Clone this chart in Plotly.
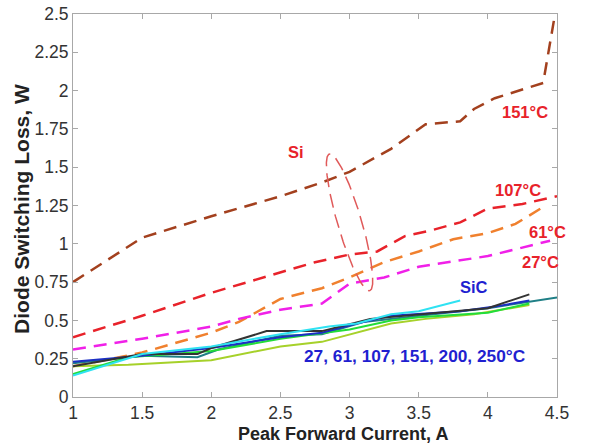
import numpy as np
import plotly.graph_objects as go

# ---- Si diode (dashed) ----
si_151_x = [1.0, 1.5, 2.0, 2.5, 2.8, 3.0, 3.3, 3.55, 3.8, 3.9, 4.05, 4.4, 4.48]
si_151_y = [0.75, 1.04, 1.18, 1.31, 1.40, 1.47, 1.62, 1.78, 1.80, 1.88, 1.95, 2.05, 2.47]

si_107_x = [1.0, 1.5, 2.0, 2.5, 2.75, 3.0, 3.2, 3.4, 3.6, 3.8, 4.0, 4.25, 4.5]
si_107_y = [0.39, 0.53, 0.68, 0.81, 0.88, 0.93, 0.95, 1.05, 1.09, 1.14, 1.23, 1.26, 1.31]

si_61_x = [1.0, 1.5, 2.0, 2.2, 2.5, 2.8, 3.0, 3.25, 3.5, 3.75, 4.0, 4.2, 4.4]
si_61_y = [0.20, 0.29, 0.42, 0.49, 0.64, 0.71, 0.78, 0.88, 0.95, 1.03, 1.07, 1.13, 1.24]

si_27_x = [1.0, 1.5, 2.0, 2.2, 2.5, 2.8, 3.0, 3.25, 3.5, 4.0, 4.45]
si_27_y = [0.31, 0.38, 0.46, 0.51, 0.57, 0.61, 0.74, 0.78, 0.85, 0.92, 1.02]

# ---- SiC diode (solid) ----
sic_a_x = [1.0, 1.5, 1.9, 2.0, 2.4, 2.8, 3.15, 3.5, 4.0, 4.3]
sic_a_y = [0.20, 0.28, 0.28, 0.32, 0.43, 0.43, 0.51, 0.54, 0.58, 0.67]
sic_b_x = [1.0, 1.5, 2.0, 2.5, 2.8, 3.05, 3.3, 3.8, 4.05, 4.3]
sic_b_y = [0.23, 0.27, 0.32, 0.39, 0.42, 0.48, 0.53, 0.56, 0.59, 0.63]
sic_c_x = [1.0, 1.5, 2.0, 2.5, 2.85, 3.05, 3.3, 3.5, 3.8]
sic_c_y = [0.14, 0.28, 0.33, 0.41, 0.46, 0.48, 0.54, 0.56, 0.63]
sic_d_x = [1.0, 1.4, 2.0, 2.5, 3.0, 3.3, 3.5, 4.0, 4.3]
sic_d_y = [0.15, 0.26, 0.30, 0.38, 0.44, 0.50, 0.52, 0.55, 0.61]
sic_e_x = [1.0, 1.4, 2.0, 2.5, 2.8, 3.05, 3.3, 3.55, 3.9, 4.3]
sic_e_y = [0.20, 0.21, 0.24, 0.33, 0.36, 0.42, 0.48, 0.51, 0.54, 0.60]
sic_f_x = [1.0, 1.5, 1.9, 2.05, 2.5, 2.8, 3.1, 3.5, 4.0, 4.5]
sic_f_y = [0.22, 0.27, 0.26, 0.31, 0.40, 0.41, 0.49, 0.53, 0.58, 0.65]

x_ticks = [1, 1.5, 2, 2.5, 3, 3.5, 4, 4.5]
x_tick_labels = ["1", "1.5", "2", "2.5", "3", "3.5", "4", "4.5"]
y_ticks = [0, 0.25, 0.5, 0.75, 1, 1.25, 1.5, 1.75, 2, 2.25, 2.5]
y_tick_labels = ["0", "0.25", "0.5", "0.75", "1", "1.25", "1.5", "1.75", "2", "2.25", "2.5"]

W, H = 599, 448
ML, MR, MT, MB = 73, 42, 4, 51
XR = [1, 4.5]
YR = [0, 2.5]

fig = go.Figure()

DASH = "13px,8px"
si_series = [
    (si_151_x, si_151_y, "#a3401e"),
    (si_107_x, si_107_y, "#e8222a"),
    (si_61_x, si_61_y, "#f0802e"),
    (si_27_x, si_27_y, "#f020e8"),
]
for xs, ys, c in si_series:
    fig.add_trace(go.Scatter(x=xs, y=ys, mode="lines",
                             line=dict(color=c, width=2.5, dash=DASH),
                             showlegend=False, hoverinfo="skip"))

sic_series = [
    (sic_f_x, sic_f_y, "#1f7f86"),
    (sic_e_x, sic_e_y, "#a6d12a"),
    (sic_d_x, sic_d_y, "#22dd3a"),
    (sic_b_x, sic_b_y, "#1c2fc4"),
    (sic_a_x, sic_a_y, "#333333"),
    (sic_c_x, sic_c_y, "#2fe2f2"),
]
for xs, ys, c in sic_series:
    fig.add_trace(go.Scatter(x=xs, y=ys, mode="lines",
                             line=dict(color=c, width=2),
                             showlegend=False, hoverinfo="skip"))

# Si grouping ellipse (tilted), built in pixel space then mapped to data units
pw = W - ML - MR
ph = H - MT - MB
sx = pw / (XR[1] - XR[0])
sy = ph / (YR[1] - YR[0])
cx, cy = 3.0, 1.14
a_px, b_px = 73, 12
ang = np.deg2rad(-74)
t = np.linspace(0, 2 * np.pi, 200)
ux = a_px * np.cos(t) * np.cos(ang) - b_px * np.sin(t) * np.sin(ang)
uy = a_px * np.cos(t) * np.sin(ang) + b_px * np.sin(t) * np.cos(ang)
fig.add_trace(go.Scatter(x=cx + ux / sx, y=cy + uy / sy, mode="lines",
                         line=dict(color="#e05a5a", width=1.5, dash="14px,7px"),
                         showlegend=False, hoverinfo="skip"))

RED = "#e8222a"
BLUE = "#1f1fd0"
labels = [
    ("151°C", 4.27, 1.86, RED, 16.5),
    ("107°C", 4.22, 1.35, RED, 16.5),
    ("61°C", 4.43, 1.08, RED, 16.5),
    ("27°C", 4.38, 0.878, RED, 16.5),
    ("Si", 2.61, 1.60, RED, 16.5),
    ("SiC", 3.90, 0.715, BLUE, 16.5),
    ("27, 61, 107, 151, 200, 250°C", 3.47, 0.267, BLUE, 17.3),
]
for txt, x, y, c, fs in labels:
    fig.add_annotation(x=x, y=y, text=f"<b>{txt}</b>", showarrow=False,
                       font=dict(family="Liberation Sans, Arial", size=fs, color=c),
                       xanchor="center", yanchor="middle")

fig.add_annotation(xref="paper", yref="paper", x=(343 - ML) / pw, y=(MT + ph - 435) / ph,
                   text="<b>Peak Forward Current, A</b>", showarrow=False,
                   font=dict(family="Liberation Sans, Arial", size=18, color="#222222"),
                   xanchor="center", yanchor="middle")
fig.add_annotation(xref="paper", yref="paper", x=(22 - ML) / pw, y=(MT + ph - 204) / ph,
                   text="<b>Diode Switching Loss, W</b>", showarrow=False, textangle=-90,
                   font=dict(family="Liberation Sans, Arial", size=21, color="#222222"),
                   xanchor="center", yanchor="middle")

axis_common = dict(showgrid=False, zeroline=False, showline=True, linecolor="#a8a8a8",
                   linewidth=1, mirror="ticks", ticks="inside", ticklen=5,
                   tickcolor="#a8a8a8", ticklabeloverflow="allow",
                   tickfont=dict(family="Liberation Sans, Arial", size=17.5, color="#333333"))
fig.update_xaxes(range=XR, tickvals=x_ticks, ticktext=x_tick_labels, ticklabelstandoff=0,
                 **axis_common)
fig.update_yaxes(range=YR, tickvals=y_ticks, ticktext=y_tick_labels, **axis_common)

fig.update_layout(width=W, height=H, margin=dict(l=ML, r=MR, t=MT, b=MB),
                  paper_bgcolor="white", plot_bgcolor="white", showlegend=False)

fig.write_html("out.html")
